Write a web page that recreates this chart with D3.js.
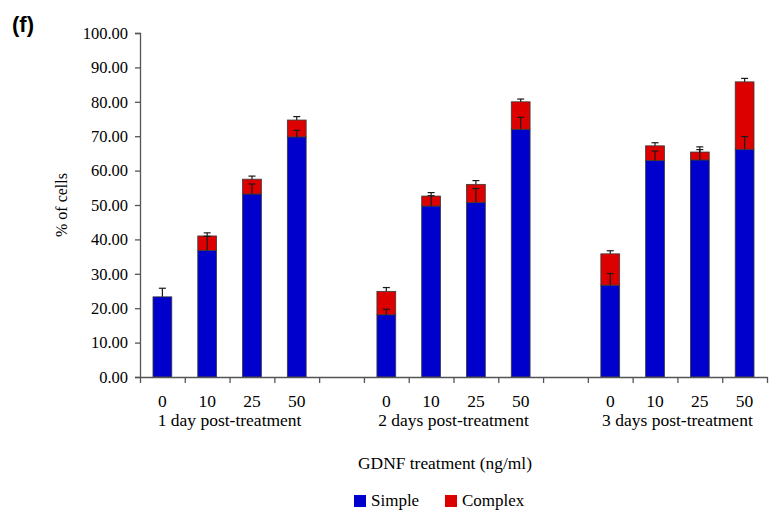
<!DOCTYPE html>
<html>
<head>
<meta charset="utf-8">
<script src="https://cdn.jsdelivr.net/npm/d3@7"></script>
<style>
  html, body { margin: 0; padding: 0; background: #fff; }
  svg { display: block; }
</style>
</head>
<body>
<svg id="chart" width="771" height="513"></svg>
<script>
// ---- data ----
const groups = ["1 day post-treatment", "2 days post-treatment", "3 days post-treatment"];
const doses = ["0", "10", "25", "50"];
const simple     = [23.3, 36.8, 53.2, 69.8,  18.1, 49.7, 50.7, 72.0,  26.7, 62.9, 63.1, 66.2];
const complex    = [0.0,  4.2,  4.3,  4.9,   6.8,  2.9,  5.3,  8.0,   9.1,  4.3,  2.3, 19.6];
const simpleErr  = [2.5,  4.1,  2.9,  1.9,   1.6,  3.0,  4.1,  3.5,   3.4,  2.8,  3.0,  3.7];
const complexErr = [0.0,  0.9,  0.9,  1.0,   1.1,  1.0,  1.1,  0.8,   0.9,  0.9,  1.5,  1.0];
const yTicks = [0, 10, 20, 30, 40, 50, 60, 70, 80, 90, 100];
const seriesNames = ["Simple", "Complex"];
const colors = ["#0000cc", "#dd0000"];

const SERIF = '"Liberation Serif", "Times New Roman", serif';

// ---- layout ----
const svg = d3.select("#chart");
const mLeft = 140, mRight = 767, mTop = 33, mBottom = 377;

// slots: groups of 4 doses separated by empty slots
const slots = [];
groups.forEach((g, gi) => {
  doses.forEach((d, di) => slots.push({ key: g + "|" + d, group: gi, dose: d, idx: gi * doses.length + di }));
  if (gi < groups.length - 1) slots.push({ key: "gap" + gi, gap: true });
});
const barSlots = slots.filter(s => !s.gap);

const x = d3.scaleBand().domain(slots.map(s => s.key)).range([mLeft, mRight])
  .paddingInner(0.58).paddingOuter(0.29);
const xLin = d3.scaleLinear().domain([0, slots.length]).range([mLeft, mRight]);
const y = d3.scaleLinear().domain([0, 100]).range([mBottom, mTop]);

// ---- bars ----
const bw = x.bandwidth();
const gBars = svg.append("g");
barSlots.forEach(s => {
  const i = s.idx;
  const x0 = x(s.key);
  gBars.append("rect")
    .attr("x", x0).attr("width", bw)
    .attr("y", y(simple[i])).attr("height", y(0) - y(simple[i]))
    .attr("fill", colors[0]).attr("stroke", "#3a3a3a").attr("stroke-width", 0.8);
  if (complex[i] > 0) {
    gBars.append("rect")
      .attr("x", x0).attr("width", bw)
      .attr("y", y(simple[i] + complex[i])).attr("height", y(simple[i]) - y(simple[i] + complex[i]))
      .attr("fill", colors[1]).attr("stroke", "#3a3a3a").attr("stroke-width", 0.8);
  }
});

// ---- error bars ----
const gErr = svg.append("g").attr("stroke", "#1a1a1a").attr("stroke-width", 1.2);
function errBar(cx, v0, v1) {
  gErr.append("line").attr("x1", cx).attr("x2", cx).attr("y1", y(v0)).attr("y2", y(v1));
  gErr.append("line").attr("x1", cx - 3.5).attr("x2", cx + 3.5).attr("y1", y(v1)).attr("y2", y(v1));
}
barSlots.forEach(s => {
  const i = s.idx;
  const cx = x(s.key) + bw / 2;
  if (simpleErr[i] > 0) errBar(cx, simple[i], simple[i] + simpleErr[i]);
  if (complexErr[i] > 0) errBar(cx, simple[i] + complex[i], simple[i] + complex[i] + complexErr[i]);
});

// ---- axes ----
const yAxis = svg.append("g").attr("transform", `translate(${mLeft},0)`)
  .call(d3.axisLeft(y).tickValues(yTicks).tickFormat(d3.format(".2f")).tickSize(5).tickPadding(7));
yAxis.attr("font-family", null).attr("font-size", null);
yAxis.selectAll("text").style("font-family", SERIF).style("font-size", "16.5px").attr("fill", "#000");
yAxis.selectAll("line, path").attr("stroke", "#555").attr("stroke-width", 1.3);

const xAxis = svg.append("g").attr("transform", `translate(0,${mBottom})`)
  .call(d3.axisBottom(xLin).tickValues(d3.range(0, slots.length + 1)).tickFormat("").tickSize(6).tickSizeOuter(0));
xAxis.selectAll("line, path").attr("stroke", "#555").attr("stroke-width", 1.3);

// dose labels
barSlots.forEach(s => {
  svg.append("text").attr("x", x(s.key) + bw / 2).attr("y", 407)
    .attr("text-anchor", "middle").style("font-family", SERIF).style("font-size", "17.5px").text(s.dose);
});
// group labels
groups.forEach((g, gi) => {
  const first = barSlots.find(s => s.group === gi), last = barSlots.filter(s => s.group === gi).pop();
  const cx = (x(first.key) + x(last.key) + bw) / 2;
  svg.append("text").attr("x", cx).attr("y", 426)
    .attr("text-anchor", "middle").style("font-family", SERIF).style("font-size", "17.5px").text(g);
});

// axis titles
svg.append("text").attr("x", 445).attr("y", 469).attr("text-anchor", "middle")
  .style("font-family", SERIF).style("font-size", "17.4px").text("GDNF treatment (ng/ml)");
svg.append("text").attr("transform", "translate(67,205) rotate(-90)").attr("text-anchor", "middle")
  .style("font-family", SERIF).style("font-size", "16px").text("% of cells");

// panel label
svg.append("text").attr("x", 12).attr("y", 32)
  .style("font-family", '"Liberation Sans", Arial, sans-serif').style("font-weight", "bold")
  .style("font-size", "22px").text("(f)");

// legend
const legX = [354, 445];
seriesNames.forEach((n, i) => {
  svg.append("rect").attr("x", legX[i]).attr("y", 495).attr("width", 12).attr("height", 12)
    .attr("fill", colors[i]);
  svg.append("text").attr("x", legX[i] + 17).attr("y", 506)
    .style("font-family", SERIF).style("font-size", "17px").text(n);
});
</script>
</body>
</html>
